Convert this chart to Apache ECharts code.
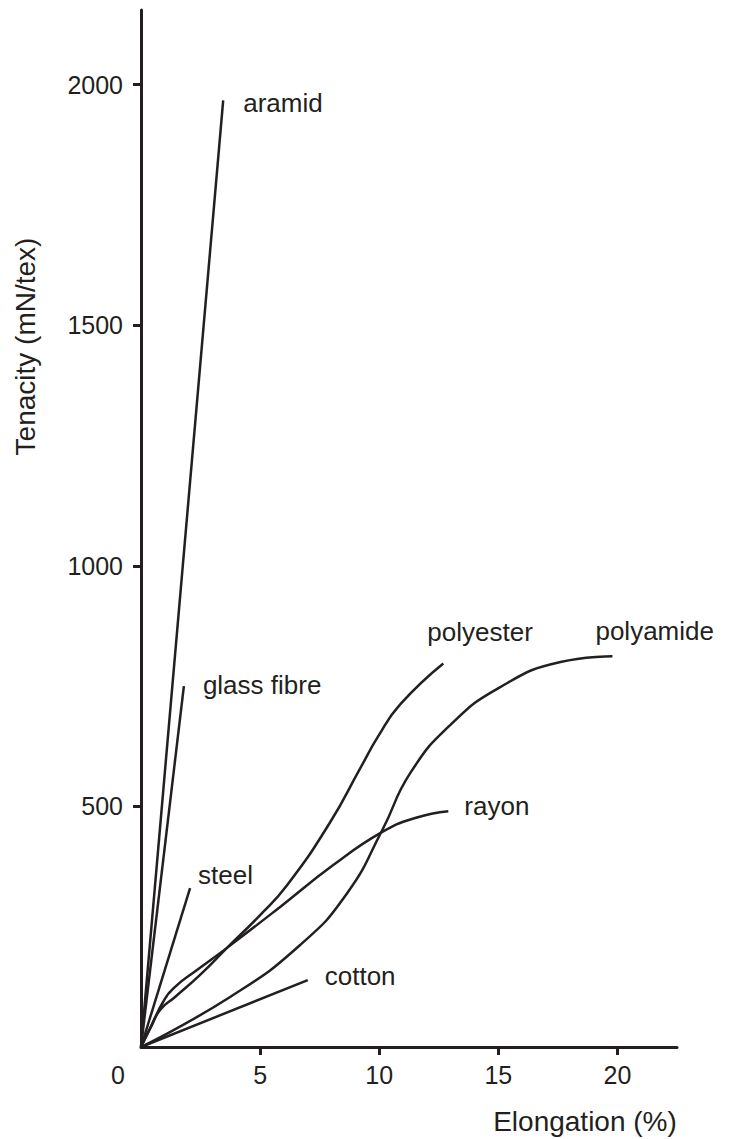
<!DOCTYPE html>
<html>
<head>
<meta charset="utf-8">
<script src="https://cdn.jsdelivr.net/npm/echarts@6/dist/echarts.min.js"></script>
<style>html,body{margin:0;padding:0;background:#fff;}#c{width:732px;height:1139px;}</style>
</head>
<body>
<div id="c"></div>
<script>
// Tick labels
const xTicks = [0, 5, 10, 15, 20];
const yTicks = [500, 1000, 1500, 2000];
// Series names
const names = ['aramid', 'glass fibre', 'steel', 'cotton', 'rayon', 'polyester', 'polyamide'];
// Series values: [elongation %, tenacity mN/tex]
const aramid = [[0, 0], [3.45, 1967]];
const glassFibre = [[0, 0], [1.8, 750]];
const steel = [[0, 0], [2.06, 330]];
const cotton = [[0, 0], [7.0, 139]];
const rayon = [[0,0],[0.46,46],[0.92,93],[1.43,125],[2.35,160],[3.61,206],[5.84,291],[8.07,378],[10.13,447],[11.51,476],[12.90,490]];
const polyester = [[0,0],[0.38,39],[0.80,77],[1.43,104],[2.48,150],[3.61,206],[5.00,274],[6.13,336],[7.94,467],[9.20,579],[9.96,646],[10.88,712],[12.69,797]];
const polyamide = [[0,0],[3.74,104],[6.68,212],[8.66,320],[10.13,451],[11.30,569],[12.98,669],[15.08,748],[17.61,800],[19.79,812]];

const ink = '#231f20';
const font = 'Liberation Sans, Arial, Helvetica, sans-serif';
const seriesData = [aramid, glassFibre, steel, cotton, rayon, polyester, polyamide];
const labelOffsets = [[20, 3], [19, -1], [8, -13], [17, -4], [16, -5], [-16, -31], [-17, -25]];
const smoothFlags = [false, false, false, false, true, true, true];

const chart = echarts.init(document.getElementById('c'), null, {renderer: 'svg'});
chart.setOption({
  backgroundColor: '#ffffff',
  animation: false,
  grid: {left: 141, top: 10, right: 55, bottom: 92, containLabel: false, outerBoundsMode: 'none'},
  xAxis: {
    type: 'value', min: 0, max: 22.5, interval: 5,
    name: 'Elongation (%)', nameLocation: 'middle', nameGap: 60,
    nameTextStyle: {fontFamily: font, fontSize: 28, color: ink, padding: [0, 0, 0, 352]},
    axisLine: {show: true, onZero: false, lineStyle: {color: ink, width: 3}},
    axisTick: {show: true, length: 8, inside: false, lineStyle: {color: ink, width: 3}, customValues: xTicks.slice(1)},
    axisLabel: {
      fontFamily: font, fontSize: 25, color: ink, margin: 15, customValues: xTicks,
      formatter: function (v) { return v === 0 ? '{z|0}' : String(v); },
      rich: {z: {fontFamily: font, fontSize: 25, color: ink, padding: [0, 46, 0, 0]}}
    },
    splitLine: {show: false}
  },
  yAxis: {
    type: 'value', min: 0, max: 2155, interval: 500,
    name: 'Tenacity (mN/tex)', nameLocation: 'middle', nameGap: 102,
    nameTextStyle: {fontFamily: font, fontSize: 28, color: ink, padding: [0, 0, 0, 364]},
    axisLine: {show: true, onZero: false, lineStyle: {color: ink, width: 3}},
    axisTick: {show: true, length: 8, lineStyle: {color: ink, width: 3}, customValues: yTicks},
    axisLabel: {fontFamily: font, fontSize: 25, color: ink, margin: 18, customValues: yTicks,
      formatter: function (v) { return String(v); }},
    splitLine: {show: false}
  },
  series: names.map(function (n, i) {
    return {
      name: n, type: 'line', data: seriesData[i],
      smooth: smoothFlags[i] ? 0.5 : false,
      showSymbol: false, symbol: 'none',
      lineStyle: {color: ink, width: 2.5},
      endLabel: {
        show: true, formatter: n, fontFamily: font, fontSize: 26, color: ink,
        align: 'left', verticalAlign: 'middle', distance: 0, offset: labelOffsets[i]
      },
      z: 3
    };
  })
});
</script>
</body>
</html>
